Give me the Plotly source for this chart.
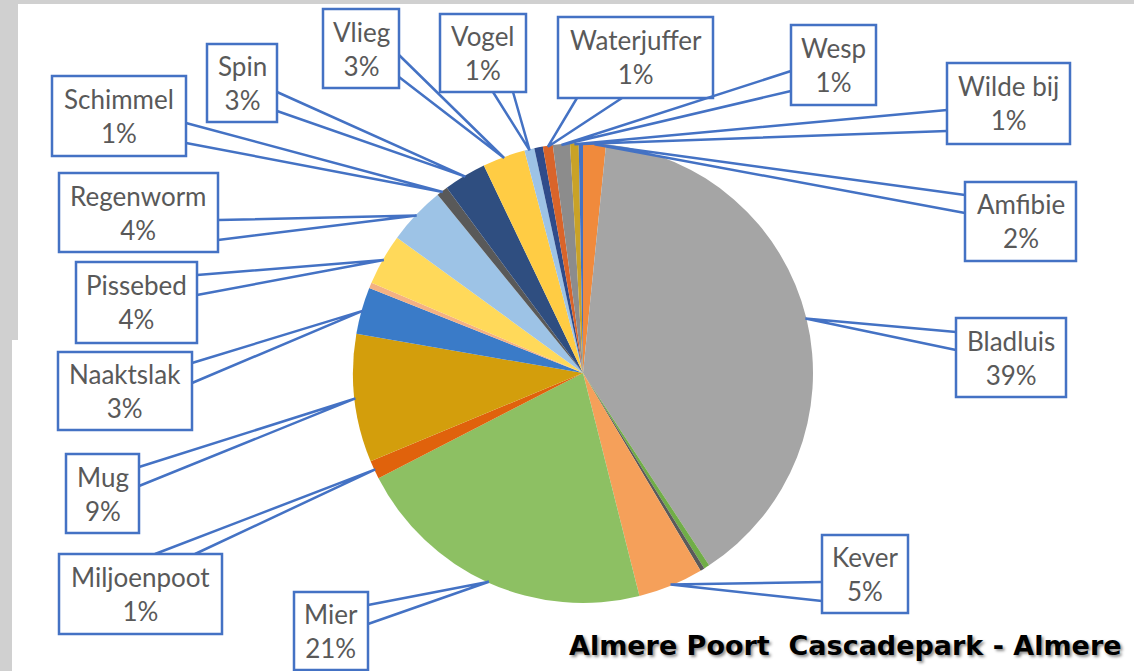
import math
import plotly.graph_objects as go

# ---------------- data ----------------
categories = ["Amfibie", "Bladluis", "Onbekend 1", "Onbekend 2", "Kever", "Mier",
              "Miljoenpoot", "Mug", "Naaktslak", "Onbekend 3", "Pissebed", "Regenworm",
              "Schimmel", "Spin", "Vlieg", "Vogel", "Onbekend 4", "Waterjuffer",
              "Wesp", "Wilde bij", "Onbekend 5"]
values = [1.6, 39.2, 0.4, 0.3, 4.6, 21.4,
          1.3, 9.0, 3.3, 0.4, 3.6, 4.1,
          0.8, 3.0, 3.0, 0.7, 0.6, 0.7,
          1.2, 0.6, 0.3]
title_text = "Almere Poort\u00a0 Cascadepark - Almere"

# ---------------- style / layout ----------------
slice_colors = ["#F08A3C", "#A5A5A5", "#70AD47", "#5A5A5A", "#F5A05A", "#8DC063",
                "#E0620C", "#D39E0C", "#3A7BC8", "#F4B183", "#FFD95A", "#9DC3E6",
                "#595959", "#2F4E80", "#FFCC44", "#9DC3E6", "#2F4B8A", "#D9642A",
                "#8C8C8C", "#C9A227", "#4472C4"]

W, H = 1134, 671
CX, CY, R = 583, 373, 230
BLUE = "#4472C4"

# callout boxes: x0, y0, x1, y1, side, attach1, attach2 (pixels)
boxes = {
    "Amfibie":     (965, 182, 1076, 261, "L", 195, 213),
    "Bladluis":    (956, 318, 1066, 397, "L", 332, 350),
    "Kever":       (822, 535, 908, 613, "L", 582, 601),
    "Mier":        (294, 592, 368, 670, "R", 605, 624),
    "Miljoenpoot": (59, 554, 222, 634, "T", 155, 195),
    "Mug":         (66, 454, 139, 533, "R", 467, 486),
    "Naaktslak":   (58, 352, 192, 430, "R", 363, 383),
    "Pissebed":    (76, 262, 197, 343, "R", 275, 295),
    "Regenworm":   (59, 173, 218, 252, "R", 220, 240),
    "Schimmel":    (52, 76, 186, 156, "R", 123, 143),
    "Spin":        (207, 44, 277, 122, "R", 92, 111),
    "Vlieg":       (323, 9, 399, 88, "R", 55, 77),
    "Vogel":       (440, 14, 526, 92, "B", 493, 513),
    "Waterjuffer": (558, 17, 713, 98, "B", 577, 622),
    "Wesp":        (791, 25, 876, 105, "L", 71, 91),
    "Wilde bij":   (947, 63, 1070, 144, "L", 110, 131),
}


def px(x):
    return x / W


def py(y):
    return 1 - y / H


total = sum(values)
fig = go.Figure()
fig.add_trace(go.Pie(
    labels=categories, values=values, sort=False, direction="clockwise", rotation=0,
    marker=dict(colors=slice_colors, line=dict(width=0)),
    textinfo="none", hoverinfo="label+percent", showlegend=False,
    domain=dict(x=[px(CX - R), px(CX + R)], y=[py(CY + R), py(CY - R)]),
))

shapes = []
annotations = []
# background frame pieces
shapes.append(dict(type="rect", xref="paper", yref="paper", x0=0, x1=1, y0=py(4), y1=1,
                   fillcolor="#D0D0D0", line=dict(width=0), layer="below"))
shapes.append(dict(type="rect", xref="paper", yref="paper", x0=0, x1=px(18), y0=py(340), y1=1,
                   fillcolor="#D0D0D0", line=dict(width=0), layer="below"))
shapes.append(dict(type="rect", xref="paper", yref="paper", x0=0, x1=px(12), y0=0, y1=py(340),
                   fillcolor="#D0D0D0", line=dict(width=0), layer="below"))

cum = 0.0
for name, v in zip(categories, values):
    mid = (cum + v / 2) / total * 2 * math.pi
    cum += v
    if name not in boxes:
        continue
    x0, y0, x1, y1, side, a1, a2 = boxes[name]
    tx = CX + (R - 1) * math.sin(mid)
    ty = CY - (R - 1) * math.cos(mid)
    if side == "L":
        p1, p2 = (x0, a1), (x0, a2)
    elif side == "R":
        p1, p2 = (x1, a1), (x1, a2)
    elif side == "B":
        p1, p2 = (a1, y1), (a2, y1)
    else:
        p1, p2 = (a1, y0), (a2, y0)
    path = "M {} {} L {} {} L {} {}".format(px(p1[0]), py(p1[1]), px(tx), py(ty), px(p2[0]), py(p2[1]))
    shapes.append(dict(type="path", xref="paper", yref="paper", path=path,
                       line=dict(color=BLUE, width=2.5), layer="above"))
    shapes.append(dict(type="rect", xref="paper", yref="paper",
                       x0=px(x0), x1=px(x1), y0=py(y1), y1=py(y0),
                       fillcolor="white", line=dict(color=BLUE, width=2.5), layer="above"))
    pct = int(v / total * 100 + 0.5)
    annotations.append(dict(xref="paper", yref="paper", x=px((x0 + x1) / 2), y=py((y0 + y1) / 2),
                            text=f"{name}<br>{pct}%", showarrow=False, align="center",
                            xanchor="center", yanchor="middle",
                            font=dict(family="Lato, Carlito, sans-serif", size=26, color="#595959")))

annotations.append(dict(xref="paper", yref="paper", x=px(845), y=py(645), text=title_text,
                        showarrow=False, xanchor="center", yanchor="middle",
                        font=dict(family="DejaVu Sans", size=27, color="black", weight="bold",
                                  shadow="2px 2px 3px rgba(0,0,0,0.45)")))

fig.update_layout(width=W, height=H, margin=dict(l=0, r=0, t=0, b=0),
                  paper_bgcolor="white", plot_bgcolor="white",
                  shapes=shapes, annotations=annotations)
fig.write_html("out.html", config={"displayModeBar": False},
               post_script="document.body.style.margin='0';")
